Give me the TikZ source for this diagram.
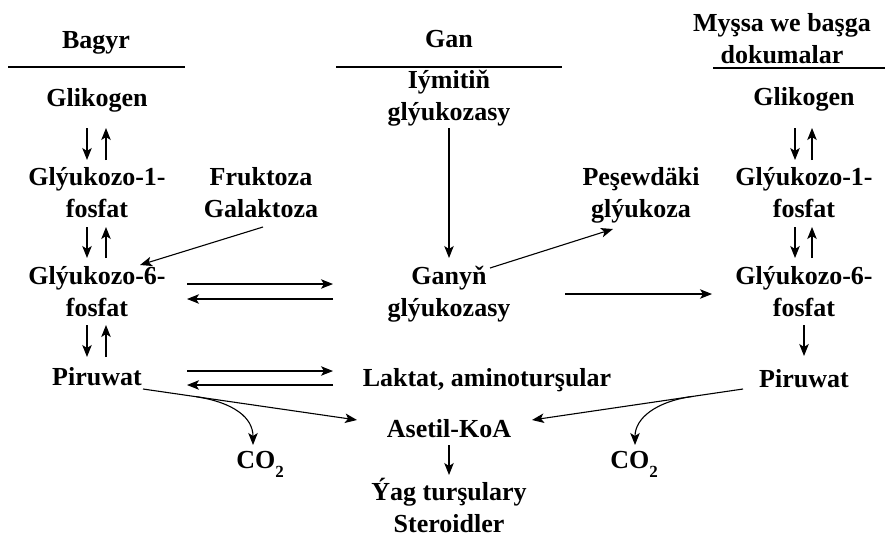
\documentclass[tikz,border=0pt]{standalone}
\usepackage{fontspec}
\setmainfont{Liberation Serif}
\usetikzlibrary{arrows.meta,calc}
\tikzset{
  lbl/.style={anchor=base, inner sep=0pt, align=center, font=\bfseries\fontsize{26}{32}\selectfont},
  arr/.style={line width=1.1pt, -{Stealth[length=12pt,width=9.5pt,inset=3pt]}},
  rule/.style={line width=1.1pt}
}
\newcommand{\cotwo}{CO\raisebox{-9pt}{\fontsize{17}{17}\selectfont 2}}
\begin{document}
\begin{tikzpicture}[x=1pt,y=-1pt]
\useasboundingbox (0,0) rectangle (885,536);
% headers (multi-line nodes are anchored at the baseline of their last line)
\node[lbl] (bagyr) at (96,48) {Bagyr};
\node[lbl] (gan) at (449,47) {Gan};
\node[lbl] (myssa) at (782,63) {Myşsa we başga\\dokumalar};
\draw[rule] (8,67) -- (185,67);
\draw[rule] (336,67) -- (562,67);
\draw[rule] (713,68) -- (885,68);
% left column
\node[lbl] (glikL) at (97,106) {Glikogen};
\node[lbl] (g1pL) at (97,217) {Glýukozo-1-\\fosfat};
\node[lbl] (g6pL) at (97,316) {Glýukozo-6-\\fosfat};
\node[lbl] (piruL) at (97,385) {Piruwat};
\node[lbl] (fruk) at (261,217) {Fruktoza\\Galaktoza};
% middle
\node[lbl] (iym) at (449,120) {Iýmitiň\\glýukozasy};
\node[lbl] (gany) at (449,316) {Ganyň\\glýukozasy};
\node[lbl] (pesew) at (641,217) {Peşewdäki\\glýukoza};
\node[lbl] (lakt) at (487,386) {Laktat, aminoturşular};
\node[lbl] (aset) at (449,437) {Asetil-KoA};
\node[lbl] (yag) at (449,532) {Ýag turşulary\\Steroidler};
\node[lbl] (co2L) at (260,468) {\cotwo};
\node[lbl] (co2R) at (634,468) {\cotwo};
% right column
\node[lbl] (glikR) at (804,105) {Glikogen};
\node[lbl] (g1pR) at (804,217) {Glýukozo-1-\\fosfat};
\node[lbl] (g6pR) at (804,316) {Glýukozo-6-\\fosfat};
\node[lbl] (piruR) at (804,387) {Piruwat};
% left vertical pairs
\draw[arr] ([shift={(-10,22)}]glikL.base) -- ([shift={(-10,-57)}]g1pL.base);
\draw[arr] ([shift={(9,-57)}]g1pL.base) -- ([shift={(9,22)}]glikL.base);
\draw[arr] ([shift={(-10,10)}]g1pL.base) -- ([shift={(-10,-58)}]g6pL.base);
\draw[arr] ([shift={(9,-58)}]g6pL.base) -- ([shift={(9,10)}]g1pL.base);
\draw[arr] ([shift={(-10,9)}]g6pL.base) -- ([shift={(-10,-28)}]piruL.base);
\draw[arr] ([shift={(9,-28)}]piruL.base) -- ([shift={(9,9)}]g6pL.base);
% right vertical
\draw[arr] ([shift={(-9,23)}]glikR.base) -- ([shift={(-9,-57)}]g1pR.base);
\draw[arr] ([shift={(8,-57)}]g1pR.base) -- ([shift={(8,23)}]glikR.base);
\draw[arr] ([shift={(-9,10)}]g1pR.base) -- ([shift={(-9,-58)}]g6pR.base);
\draw[arr] ([shift={(8,-58)}]g6pR.base) -- ([shift={(8,10)}]g1pR.base);
\draw[arr] ([shift={(0,9)}]g6pR.base) -- ([shift={(0,-31)}]piruR.base);
% horizontal
\draw[arr] ([shift={(90,-32)}]g6pL.base) -- ([shift={(-116,-32)}]gany.base);
\draw[arr] ([shift={(-116,-17)}]gany.base) -- ([shift={(90,-17)}]g6pL.base);
\draw[arr] ([shift={(90,-14)}]piruL.base) -- ([shift={(-154,-15)}]lakt.base);
\draw[arr] ([shift={(-154,-1)}]lakt.base) -- ([shift={(90,0)}]piruL.base);
\draw[arr] ([shift={(116,-22)}]gany.base) -- ([shift={(-92,-22)}]g6pR.base);
% middle arrows
\draw[arr] ([shift={(0,8)}]iym.base) -- ([shift={(0,-58)}]gany.base);
\draw[arr] ([shift={(41,-48)}]gany.base) -- ([shift={(-28,12)}]pesew.base);
\draw[arr] ([shift={(2,10)}]fruk.base) -- ([shift={(43,-51)}]g6pL.base);
\draw[arr] ([shift={(0,8)}]aset.base) -- ([shift={(0,-57)}]yag.base);
% pyruvate to acetyl-CoA with CO2 branches
\coordinate (pLs) at ([shift={(46,4)}]piruL.base);
\coordinate (pLe) at ([shift={(-92,-17)}]aset.base);
\draw[arr] (pLs) -- (pLe);
\coordinate (bL) at ($(pLs)!0.25!(pLe)$);
\draw[arr] (bL) .. controls ($(bL)+(38,6)$) and ($(co2L.base)+(-7,-50)$) .. ([shift={(-7,-23)}]co2L.base);
\coordinate (pRs) at ([shift={(-61,2)}]piruR.base);
\coordinate (pRe) at ([shift={(83,-17)}]aset.base);
\draw[arr] (pRs) -- (pRe);
\coordinate (bR) at ($(pRs)!0.24!(pRe)$);
\draw[arr] (bR) .. controls ($(bR)+(-36,5)$) and ($(co2R.base)+(1,-50)$) .. ([shift={(1,-23)}]co2R.base);
\end{tikzpicture}
\end{document}
